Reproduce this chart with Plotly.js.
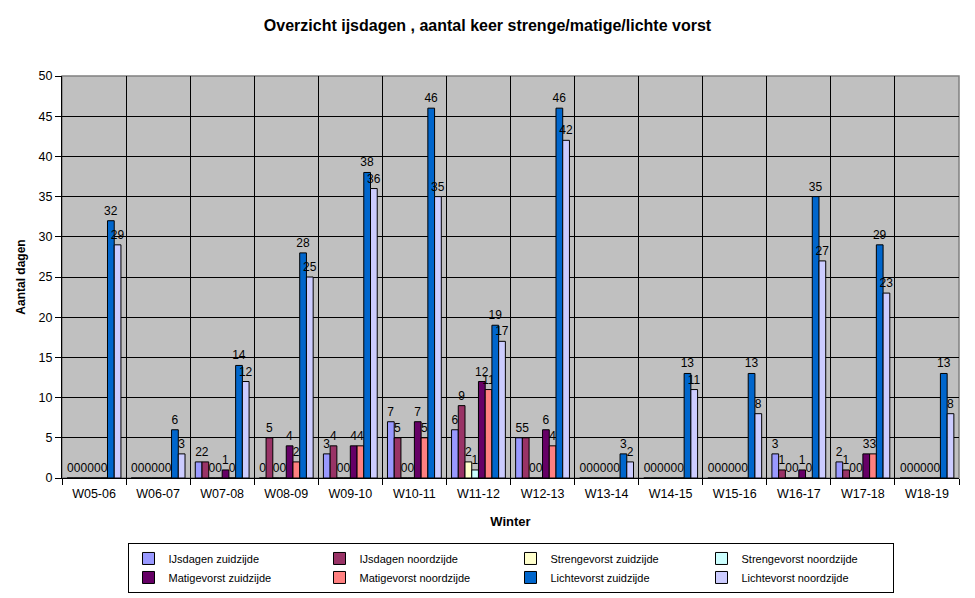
<!DOCTYPE html>
<html>
<head>
<meta charset="utf-8">
<script src="https://cdn.plot.ly/plotly-3.0.1.min.js"></script>
<style>
  html, body { margin: 0; padding: 0; background: #fff; }
  #chart { width: 975px; height: 598px; }
</style>
</head>
<body>
<div id="chart"></div>
<script>
const winters = ["W05-06", "W06-07", "W07-08", "W08-09", "W09-10", "W10-11", "W11-12",
                 "W12-13", "W13-14", "W14-15", "W15-16", "W16-17", "W17-18", "W18-19"];

const ijsZuid     = [0, 0, 2, 0, 3, 7, 6, 5, 0, 0, 0, 3, 2, 0];
const ijsNoord    = [0, 0, 2, 5, 4, 5, 9, 5, 0, 0, 0, 1, 1, 0];
const strengZuid  = [0, 0, 0, 0, 0, 0, 2, 0, 0, 0, 0, 0, 0, 0];
const strengNoord = [0, 0, 0, 0, 0, 0, 1, 0, 0, 0, 0, 0, 0, 0];
const matigZuid   = [0, 0, 1, 4, 4, 7, 12, 6, 0, 0, 0, 1, 3, 0];
const matigNoord  = [0, 0, 0, 2, 4, 5, 11, 4, 0, 0, 0, 0, 3, 0];
const lichtZuid   = [32, 6, 14, 28, 38, 46, 19, 46, 3, 13, 13, 35, 29, 13];
const lichtNoord  = [29, 3, 12, 25, 36, 35, 17, 42, 2, 11, 8, 27, 23, 8];

const series = [
  {name: "IJsdagen zuidzijde",      y: ijsZuid,     color: "#9999FF"},
  {name: "IJsdagen noordzijde",     y: ijsNoord,    color: "#993366"},
  {name: "Strengevorst zuidzijde",  y: strengZuid,  color: "#FFFFCC"},
  {name: "Strengevorst noordzijde", y: strengNoord, color: "#CCFFFF"},
  {name: "Matigevorst zuidzijde",   y: matigZuid,   color: "#660066"},
  {name: "Matigevorst noordzijde",  y: matigNoord,  color: "#FF8080"},
  {name: "Lichtevorst zuidzijde",   y: lichtZuid,   color: "#0066CC"},
  {name: "Lichtevorst noordzijde",  y: lichtNoord,  color: "#CCCCFF"},
];

const font = "Liberation Sans, Arial, sans-serif";

const data = series.map(s => ({
  type: "bar",
  name: s.name,
  x: winters,
  y: s.y,
  text: s.y.map(String),
  textposition: "outside",
  textfont: {family: font, size: 12, color: "#000"},
  constraintext: "none",
  cliponaxis: false,
  marker: {color: s.color, line: {color: "#000", width: 1}},
  hoverinfo: "x+y+name",
}));

const layout = {
  width: 975,
  height: 598,
  margin: {l: 62, r: 16, t: 76, b: 120},
  paper_bgcolor: "#fff",
  plot_bgcolor: "#C0C0C0",
  font: {family: font, size: 12, color: "#000"},
  title: {
    text: "<b>Overzicht ijsdagen , aantal keer strenge/matige/lichte vorst</b>",
    font: {family: font, size: 16, color: "#000"},
    x: 0.5, xanchor: "center", y: 0.958, yanchor: "middle",
  },
  barmode: "group",
  bargap: 0.16,
  bargroupgap: 0,
  xaxis: {
    type: "category",
    tickson: "boundaries",
    ticks: "outside",
    ticklen: 6,
    tickcolor: "#000",
    ticklabelstandoff: 4,
    showgrid: true,
    gridcolor: "#000",
    gridwidth: 1,
    showline: true,
    linecolor: "#000",
    linewidth: 1,
    tickfont: {family: font, size: 12.5},
    title: {text: "<b>Winter</b>", font: {family: font, size: 13}, standoff: 16},
  },
  yaxis: {
    range: [0, 50],
    dtick: 5,
    ticks: "outside",
    ticklen: 6,
    tickcolor: "#000",
    showgrid: true,
    gridcolor: "#000",
    gridwidth: 1,
    showline: true,
    linecolor: "#000",
    linewidth: 1,
    zeroline: false,
    tickfont: {family: font, size: 12.5},
    title: {text: "<b>Aantal dagen</b>", font: {family: font, size: 12}, standoff: 10},
  },
  shapes: [{
    type: "rect", xref: "paper", yref: "paper", x0: 0, x1: 1, y0: 0, y1: 1,
    line: {color: "#808080", width: 1.5}, layer: "below",
  }],
  showlegend: true,
  legend: {
    orientation: "h",
    xref: "paper", x: 0.5, xanchor: "center",
    yref: "container", y: 0.092, yanchor: "top",
    bordercolor: "#000",
    borderwidth: 1,
    bgcolor: "#fff",
    entrywidth: 146,
    font: {family: font, size: 11},
    traceorder: "normal",
    itemclick: false,
  },
};

Plotly.newPlot("chart", data, layout, {displayModeBar: false, staticPlot: true});
</script>
</body>
</html>
